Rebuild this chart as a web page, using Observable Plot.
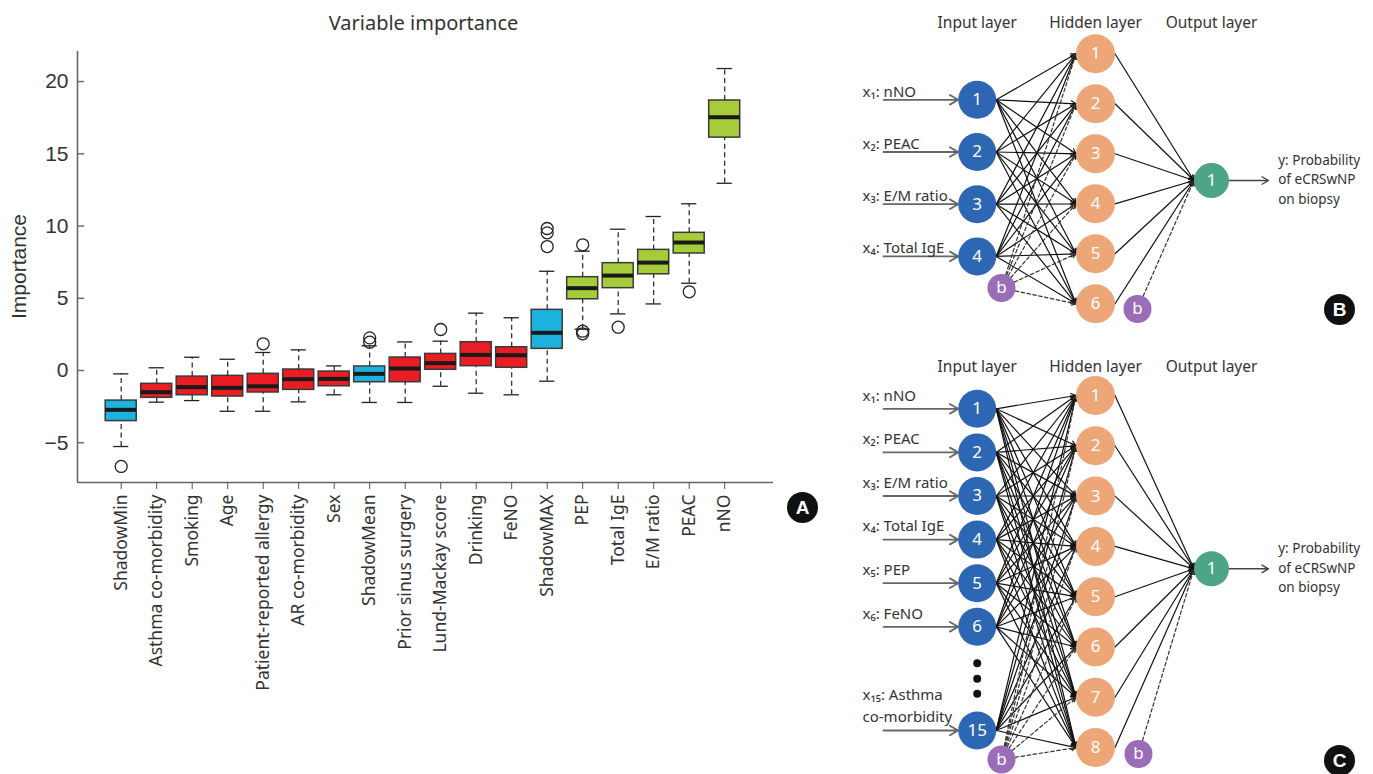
<!DOCTYPE html>
<html><head><meta charset="utf-8">
<script src="https://cdn.jsdelivr.net/npm/d3@7"></script>
<script src="https://cdn.jsdelivr.net/npm/@observablehq/plot@0.6"></script>
<style>
body{margin:0;background:#fff;}
#fig{position:relative;width:1373px;height:774px;overflow:hidden;background:#fff;}
#fig svg{position:absolute;left:0;top:0;max-width:none;}
</style></head><body><div id="fig"></div>
<script>
// ---------- Panel A data ----------
const categories = ["ShadowMin","Asthma co-morbidity","Smoking","Age","Patient-reported allergy","AR co-morbidity","Sex","ShadowMean","Prior sinus surgery","Lund-Mackay score","Drinking","FeNO","ShadowMAX","PEP","Total IgE","E/M ratio","PEAC","nNO"];
const groups = ["shadow","rejected","rejected","rejected","rejected","rejected","rejected","shadow","rejected","rejected","rejected","rejected","shadow","confirmed","confirmed","confirmed","confirmed","confirmed"];
const lowerWhisker = [-5.26,-2.19,-2.08,-2.82,-2.82,-2.17,-1.68,-2.21,-2.21,-1.09,-1.57,-1.68,-0.74,2.86,3.92,4.61,6.04,12.96];
const q1Values     = [-3.50,-1.89,-1.71,-1.80,-1.52,-1.34,-1.09,-0.81,-0.81,0.05,0.30,0.19,1.50,4.93,5.70,6.66,8.10,16.12];
const medianValues = [-2.72,-1.50,-1.15,-1.20,-1.09,-0.60,-0.58,-0.23,0.14,0.51,1.08,1.06,2.61,5.70,6.57,7.47,8.86,17.53];
const q3Values     = [-2.08,-0.92,-0.42,-0.37,-0.23,0.07,-0.07,0.28,0.90,1.15,1.96,1.61,4.20,6.46,7.43,8.35,9.53,18.69];
const upperWhisker = [-0.23,0.19,0.92,0.78,1.25,1.43,0.32,1.71,1.98,2.03,3.97,3.65,6.87,8.26,9.78,10.66,11.54,20.90];
const outlierCategory = [0,4,7,7,9,12,12,12,13,13,13,14,16];
const outlierValues   = [-6.64,1.85,2.26,1.96,2.84,9.83,9.53,8.58,8.70,2.72,2.54,3.00,5.45];
const yTicks = [-5,0,5,10,15,20];
const groupNames = ["shadow","rejected","confirmed"];
const groupColors = ["#1db3df","#ec1c24","#a6cd39"];

// ---------- Panels B / C data ----------
const layerTitles = ["Input layer","Hidden layer","Output layer"];
const inputIdsB = [1,2,3,4];
const inputNamesB = ["nNO","PEAC","E/M ratio","Total IgE"];
const hiddenCountB = 6;
const inputIdsC = [1,2,3,4,5,6,15];
const inputNamesC = ["nNO","PEAC","E/M ratio","Total IgE","PEP","FeNO","Asthma\nco-morbidity"];
const hiddenCountC = 8;
const outputText = ["y: Probability","of eCRSwNP","on biopsy"];
const panelLetters = ["A","B","C"];
const titleText = "Variable importance";
const yLabelText = "Importance";

// ---------- Panel A ----------
const boxes = categories.map((c,i)=>({i,c,lo:lowerWhisker[i],q1:q1Values[i],med:medianValues[i],q3:q3Values[i],hi:upperWhisker[i],g:groups[i]}));
const outliers = outlierCategory.map((i,k)=>({i,v:outlierValues[k]}));
const xMin=-1.231, xMax=18.375, yMin=-7.75, yMax=22.08;
const half=0.437, cap=0.215;
const ink="#222";
const plotA = Plot.plot({
  width:830, height:774, marginLeft:77, marginRight:57, marginTop:51, marginBottom:292,
  x:{domain:[xMin,xMax]}, y:{domain:[yMin,yMax]},
  color:{domain:groupNames, range:groupColors},
  style:{fontFamily:"'Noto Sans', sans-serif", color:"#333", background:"transparent"},
  marks:[
    Plot.ruleX([xMin],{stroke:"#666",strokeWidth:1.6}),
    Plot.ruleY([yMin],{stroke:"#666",strokeWidth:1.6}),
    Plot.ruleY(yTicks,{y:d=>d,x1:xMin,x2:xMin+0.2,stroke:"#666",strokeWidth:1.4}),
    Plot.axisY({ticks:yTicks,tickSize:0,tickPadding:9,fontSize:21,fontFamily:"'Liberation Sans', Arial, sans-serif",label:null,fill:"#333"}),
    Plot.axisX(d3.range(categories.length),{tickSize:7,tickPadding:5,tickRotate:-90,tickFormat:i=>categories[i],fontSize:17.5,label:null,stroke:"#555",fill:"#333"}),
    Plot.ruleX(boxes,{x:"i",y1:"q3",y2:"hi",stroke:ink,strokeWidth:1.2,strokeDasharray:"5,3.5"}),
    Plot.ruleX(boxes,{x:"i",y1:"lo",y2:"q1",stroke:ink,strokeWidth:1.2,strokeDasharray:"5,3.5"}),
    Plot.ruleY(boxes,{y:"hi",x1:d=>d.i-cap,x2:d=>d.i+cap,stroke:ink,strokeWidth:1.3}),
    Plot.ruleY(boxes,{y:"lo",x1:d=>d.i-cap,x2:d=>d.i+cap,stroke:ink,strokeWidth:1.3}),
    Plot.rect(boxes,{x1:d=>d.i-half,x2:d=>d.i+half,y1:"q1",y2:"q3",fill:"g",stroke:"#3a3a3a",strokeWidth:1.5}),
    Plot.ruleY(boxes,{y:"med",x1:d=>d.i-half,x2:d=>d.i+half,stroke:"#1a1a1a",strokeWidth:4}),
    Plot.dot(outliers,{x:"i",y:"v",r:6,stroke:ink,strokeWidth:1.3,fill:"none"})
  ]
});

// ---------- Overlay: annotations and network diagrams ----------
const sub = n => String(n).split("").map(c=>"₀₁₂₃₄₅₆₇₈₉"[+c]).join("");
const layerX=[976.7,1095,1211];
const rIn=19, rHid=19.5, rOut=17.5, rBias=14;
const layouts = {
  B:{ids:inputIdsB,names:inputNamesB,hidden:hiddenCountB,inY:(k,id)=>99.3+52.2*k,hidY:k=>53.3+50*k,outY:180,bIn:[1001,287.5],bHid:[1137,308.5],titleY:22.7,badge:[1339,309],dots:[],labelDy:-8},
  C:{ids:inputIdsC,names:inputNamesC,hidden:hiddenCountC,inY:(k,id)=>id===15?730:408.3+43.6*k,hidY:k=>395+50.3*k,outY:568.3,bIn:[1001,759],bHid:[1138,753.5],titleY:366.7,badge:[1339,760],dots:[662.7,678.3,693.3],labelDy:-13}
};
const nodes=[], solid=[], dashed=[], inArrows=[], labels=[], titles=[], outArrows=[], outLabels=[], ell=[], badges=[];
for (const key of ["B","C"]) {
  const P=layouts[key];
  const inP=P.ids.map((id,k)=>({id,x:layerX[0],y:P.inY(k,id)}));
  const hidP=d3.range(P.hidden).map(k=>({id:k+1,x:layerX[1],y:P.hidY(k)}));
  const out={x:layerX[2],y:P.outY};
  inP.forEach(n=>nodes.push({x:n.x,y:n.y,r:rIn,fill:"#2d67b3",t:String(n.id)}));
  hidP.forEach(n=>nodes.push({x:n.x,y:n.y,r:rHid,fill:"#eca678",t:String(n.id)}));
  nodes.push({x:out.x,y:out.y,r:rOut,fill:"#4ea585",t:"1"});
  nodes.push({x:P.bIn[0],y:P.bIn[1],r:rBias,fill:"#9b6cb8",t:"b"});
  nodes.push({x:P.bHid[0],y:P.bHid[1],r:rBias,fill:"#9b6cb8",t:"b"});
  for (const a of inP) for (const h of hidP) solid.push({x1:a.x+rIn,y1:a.y,x2:h.x-rHid,y2:h.y});
  for (const h of hidP) solid.push({x1:h.x+rHid,y1:h.y,x2:out.x-rOut,y2:out.y});
  for (const h of hidP) dashed.push({x1:P.bIn[0],y1:P.bIn[1],x2:h.x-rHid,y2:h.y});
  dashed.push({x1:P.bHid[0],y1:P.bHid[1],x2:out.x-rOut,y2:out.y});
  inP.forEach((a,k)=>{
    inArrows.push({x1:883,y1:a.y,x2:a.x-rIn,y2:a.y});
    const lines=P.names[k].split("\n");
    lines.forEach((ln,j)=>labels.push({x:862,y:a.y+P.labelDy-(lines.length-1-j)*22,t:(j===0?`x${sub(a.id)}: `:"")+ln}));
  });
  layerTitles.forEach((t,i)=>titles.push({x:layerX[i],y:P.titleY,t}));
  outArrows.push({x1:out.x+rOut,y1:out.y,x2:1268,y2:out.y});
  outputText.forEach((t,j)=>outLabels.push({x:1277.7,y:out.y-20+j*19.5,t}));
  P.dots.forEach(y=>ell.push({x:layerX[0],y}));
  badges.push({x:P.badge[0],y:P.badge[1],t:key});
}
badges.push({x:802,y:507,t:panelLetters[0]});

const overlay = Plot.plot({
  width:1373, height:774, margin:0,
  x:{domain:[0,1373],range:[0,1373],axis:null},
  y:{domain:[0,774],range:[0,774],axis:null},
  r:{type:"identity"},
  style:{fontFamily:"'Noto Sans', sans-serif", background:"transparent", color:"#333"},
  marks:[
    Plot.text([titleText],{x:423,y:22.7,text:d=>d,fontSize:20,fill:"#333"}),
    Plot.text([yLabelText],{x:18.5,y:266,text:d=>d,rotate:-90,fontSize:21,fill:"#333",fontFamily:"'Liberation Sans', Arial, sans-serif"}),
    Plot.arrow(solid,{x1:"x1",y1:"y1",x2:"x2",y2:"y2",stroke:"#111",strokeWidth:1.2,headLength:7}),
    Plot.arrow(dashed,{x1:"x1",y1:"y1",x2:"x2",y2:"y2",stroke:"#333",strokeWidth:1.2,headLength:6,insetStart:rBias,strokeDasharray:"3.5,2.5"}),
    Plot.arrow(inArrows,{x1:"x1",y1:"y1",x2:"x2",y2:"y2",stroke:"#666",strokeWidth:1.8,headLength:8}),
    Plot.arrow(outArrows,{x1:"x1",y1:"y1",x2:"x2",y2:"y2",stroke:"#444",strokeWidth:1.4,headLength:8}),
    Plot.dot(nodes,{x:"x",y:"y",r:"r",fill:"fill",stroke:"none"}),
    Plot.text(nodes,{x:"x",y:"y",text:"t",fill:"white",fontSize:17}),
    Plot.dot(ell,{x:"x",y:"y",r:4,fill:"#111"}),
    Plot.text(labels,{x:"x",y:"y",text:"t",textAnchor:"start",fontSize:15,fill:"#333"}),
    Plot.text(titles,{x:"x",y:"y",text:"t",fontSize:15.5,fill:"#333"}),
    Plot.text(outLabels,{x:"x",y:"y",text:"t",textAnchor:"start",fontSize:13.5,fill:"#333"}),
    Plot.dot(badges,{x:"x",y:"y",r:15.5,fill:"#111"}),
    Plot.text(badges,{x:"x",y:"y",text:"t",fill:"white",fontSize:19,fontWeight:"bold",fontFamily:"'Liberation Sans', Arial, sans-serif"})
  ]
});
const fig=document.getElementById("fig");
fig.appendChild(plotA);
fig.appendChild(overlay);
</script></body></html>
